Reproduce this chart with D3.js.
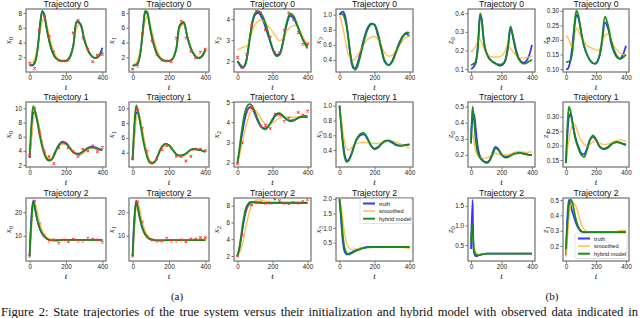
<!DOCTYPE html>
<html><head><meta charset="utf-8">
<script src="https://cdn.jsdelivr.net/npm/d3@7"></script>
<style>body{margin:0;background:#fff}svg{display:block}</style>
</head><body>
<svg id="c" width="640" height="318"></svg>
<script>
// ---------- DATA ----------
const tGrid = [0,10,20,30,40,50,60,70,80,90,100,120,140,160,180,200,220,240,260,280,300,320,340,360,380,400];
const obsT = [0,27,53,80,107,133,160,187,213,240,267,293,320,347,373,400];
const xTicks = [0,200,400];
const seriesNames = ["truth","smoothed","hybrid model"];

// Trajectory 0
const x0_t0_truth  = [1.0,0.9,1.0,1.4,2.6,4.6,7.0,8.2,7.8,6.4,5.1,3.1,2.0,1.6,1.5,1.5,2.0,3.6,6.8,6.4,4.4,3.0,2.2,1.9,2.2,3.3];
const x0_t0_smooth = [1.2,1.2,1.4,2.0,3.0,4.4,5.8,6.9,7.3,6.8,5.8,3.8,2.4,1.7,1.5,1.5,1.9,3.5,6.0,6.5,4.8,3.2,2.3,1.9,2.2,2.8];
const x0_t0_hybrid = [1.0,0.9,0.95,1.3,2.4,4.4,6.9,8.3,7.9,6.5,5.1,3.1,2.0,1.6,1.5,1.5,1.9,3.5,6.9,6.5,4.5,3.0,2.2,1.9,2.1,2.8];
const x0_t0_obs    = [1.2,0.5,5.7,7.6,4.9,2.7,1.6,1.5,1.6,5.3,7.0,4.6,3.1,1.4,2.3,2.4];

const x1_t0_truth  = [0.9,0.9,1.0,1.3,2.3,4.2,6.6,8.1,8.0,6.9,5.5,3.4,2.2,1.7,1.5,1.5,1.8,3.2,6.3,6.6,4.8,3.2,2.3,1.9,2.1,3.0];
const x1_t0_smooth = [1.0,1.1,1.3,1.8,2.8,4.2,5.8,7.0,7.5,7.2,6.2,4.2,2.6,1.8,1.5,1.5,1.8,3.2,5.8,6.5,5.0,3.4,2.4,2.0,2.2,2.9];
const x1_t0_hybrid = [0.9,0.9,0.95,1.2,2.2,4.0,6.5,8.3,8.1,6.9,5.5,3.4,2.2,1.7,1.5,1.5,1.8,3.1,6.4,6.8,4.9,3.2,2.3,1.9,2.1,3.1];
const x1_t0_obs    = [0.4,0.8,5.2,8.1,4.2,2.4,1.6,1.5,1.4,4.6,6.9,4.6,2.8,1.9,2.7,3.1];

const x2_t0_truth  = [2.0,1.85,1.72,1.68,1.75,2.0,2.5,3.1,3.6,4.0,4.2,4.3,4.05,3.6,3.1,2.6,2.3,2.35,2.9,3.7,4.15,4.05,3.7,3.3,2.95,2.7];
const x2_t0_smooth = [2.5,2.58,2.62,2.65,2.68,2.7,2.8,3.0,3.3,3.55,3.75,3.92,3.95,3.8,3.6,3.4,3.15,2.95,3.1,3.4,3.6,3.7,3.65,3.4,3.05,2.8];
const x2_t0_hybrid = [2.0,1.9,1.78,1.72,1.78,2.0,2.45,3.05,3.6,4.05,4.28,4.38,4.2,3.8,3.2,2.6,2.25,2.3,2.9,3.8,4.25,4.15,3.75,3.3,2.9,2.6];
const x2_t0_obs    = [2.18,1.7,2.32,3.71,4.38,4.3,3.48,3.16,2.41,2.4,3.47,4.3,3.95,3.37,2.8,2.82];

const x3_t0_truth  = [1.0,1.03,1.04,1.0,0.88,0.7,0.5,0.35,0.29,0.29,0.33,0.5,0.68,0.82,0.88,0.86,0.72,0.53,0.37,0.33,0.38,0.5,0.62,0.71,0.75,0.71];
const x3_t0_smooth = [0.98,0.92,0.82,0.7,0.58,0.48,0.42,0.4,0.4,0.42,0.45,0.53,0.61,0.67,0.7,0.71,0.67,0.58,0.49,0.45,0.46,0.52,0.59,0.65,0.7,0.72];
const x3_t0_hybrid = [1.0,1.01,1.0,0.95,0.85,0.7,0.52,0.38,0.3,0.27,0.3,0.46,0.65,0.8,0.87,0.87,0.75,0.55,0.38,0.33,0.37,0.48,0.6,0.7,0.76,0.76];

const z0_t0_truth  = [0.10,0.105,0.115,0.13,0.18,0.29,0.39,0.36,0.28,0.22,0.19,0.155,0.14,0.13,0.12,0.12,0.135,0.2,0.32,0.26,0.19,0.15,0.135,0.14,0.17,0.23];
const z0_t0_smooth = [0.19,0.2,0.21,0.22,0.24,0.26,0.26,0.24,0.22,0.2,0.185,0.17,0.165,0.165,0.165,0.17,0.19,0.23,0.21,0.19,0.17,0.16,0.16,0.16,0.165,0.17];
const z0_t0_hybrid = [0.12,0.125,0.13,0.14,0.18,0.28,0.40,0.37,0.28,0.22,0.19,0.155,0.14,0.13,0.125,0.125,0.14,0.21,0.33,0.25,0.18,0.145,0.13,0.13,0.14,0.15];

const z1_t0_truth  = [0.10,0.10,0.11,0.13,0.17,0.22,0.26,0.285,0.28,0.26,0.23,0.18,0.15,0.13,0.12,0.12,0.14,0.19,0.26,0.24,0.19,0.16,0.14,0.135,0.15,0.18];
const z1_t0_smooth = [0.215,0.21,0.2,0.185,0.175,0.2,0.225,0.24,0.235,0.22,0.21,0.195,0.18,0.175,0.17,0.165,0.165,0.19,0.215,0.22,0.2,0.18,0.165,0.155,0.15,0.15];
const z1_t0_hybrid = [0.125,0.125,0.126,0.13,0.15,0.2,0.27,0.30,0.29,0.26,0.23,0.18,0.15,0.13,0.12,0.12,0.14,0.2,0.28,0.25,0.2,0.165,0.145,0.135,0.14,0.15];

// Trajectory 1
const x0_t1_truth  = [3.0,6.5,9.3,9.5,8.6,7.4,6.0,4.8,3.9,3.2,2.8,2.8,3.8,4.8,5.3,5.1,4.5,3.8,3.5,3.6,4.0,4.4,4.6,4.5,4.3,4.1];
const x0_t1_smooth = [3.2,5.5,8.3,9.4,8.9,7.8,6.4,5.1,4.1,3.4,3.0,2.9,3.6,4.5,5.0,5.0,4.5,3.8,3.4,3.4,3.8,4.2,4.4,4.4,4.2,4.1];
const x0_t1_hybrid = [3.0,7.8,10.3,9.6,8.4,7.0,5.6,4.5,3.6,3.0,2.7,2.7,3.7,4.8,5.2,5.0,4.4,3.8,3.6,3.7,4.0,4.4,4.5,4.4,4.2,4.1];
const x0_t1_obs    = [3.4,10.0,6.5,3.9,3.2,2.2,4.4,5.1,4.4,3.9,3.2,4.2,4.0,4.7,3.9,4.5];

const x1_t1_truth  = [3.0,6.8,9.4,9.4,8.5,7.2,5.8,4.6,3.7,3.0,2.7,2.7,3.7,4.7,5.2,5.0,4.4,3.8,3.6,3.7,4.0,4.4,4.5,4.4,4.3,4.1];
const x1_t1_smooth = [3.2,5.8,8.5,9.3,8.8,7.6,6.2,4.9,3.9,3.2,2.8,2.8,3.6,4.5,5.0,5.0,4.5,3.8,3.5,3.5,3.9,4.3,4.4,4.4,4.3,4.2];
const x1_t1_hybrid = [3.0,8.0,10.4,9.5,8.2,6.8,5.4,4.3,3.4,2.8,2.6,2.7,3.7,4.8,5.2,5.0,4.4,3.8,3.6,3.7,4.0,4.4,4.5,4.4,4.3,4.1];
const x1_t1_obs    = [3.3,9.8,7.3,4.2,2.6,3.2,4.4,5.0,4.6,3.5,3.5,2.9,3.5,4.5,4.5,4.3];

const x2_t1_truth  = [2.0,2.5,3.1,3.6,4.1,4.45,4.65,4.75,4.72,4.6,4.4,4.0,3.75,3.7,3.85,4.1,4.35,4.4,4.3,4.15,4.08,4.1,4.18,4.25,4.27,4.25];
const x2_t1_smooth = [2.0,2.3,2.7,3.1,3.5,3.85,4.15,4.4,4.55,4.6,4.6,4.4,4.1,3.9,3.85,3.95,4.1,4.2,4.25,4.25,4.25,4.25,4.28,4.3,4.33,4.35];
const x2_t1_hybrid = [2.0,2.6,3.3,3.9,4.4,4.7,4.85,4.9,4.85,4.7,4.5,4.05,3.72,3.65,3.85,4.15,4.4,4.45,4.32,4.15,4.05,4.08,4.18,4.27,4.3,4.3];
const x2_t1_obs    = [1.95,2.98,4.54,4.72,4.3,3.82,3.85,3.69,4.4,4.35,4.05,4.2,4.1,4.48,4.35,4.55];

const x3_t1_truth  = [1.0,0.75,0.5,0.33,0.26,0.26,0.3,0.36,0.43,0.5,0.55,0.6,0.61,0.55,0.46,0.42,0.44,0.49,0.52,0.52,0.5,0.47,0.46,0.46,0.47,0.47];
const x3_t1_smooth = [1.0,0.82,0.64,0.5,0.42,0.4,0.41,0.43,0.46,0.48,0.49,0.5,0.5,0.5,0.49,0.49,0.49,0.5,0.51,0.52,0.52,0.51,0.49,0.47,0.45,0.42];
const x3_t1_hybrid = [1.0,0.72,0.46,0.3,0.24,0.25,0.29,0.35,0.43,0.5,0.56,0.62,0.63,0.56,0.46,0.41,0.43,0.48,0.52,0.53,0.51,0.48,0.46,0.46,0.47,0.48];

const z0_t1_truth  = [0.28,0.42,0.45,0.37,0.28,0.22,0.19,0.175,0.165,0.158,0.155,0.165,0.21,0.25,0.235,0.205,0.19,0.19,0.2,0.21,0.215,0.215,0.21,0.205,0.2,0.2];
const z0_t1_smooth = [0.34,0.33,0.28,0.23,0.2,0.19,0.185,0.182,0.18,0.18,0.182,0.19,0.205,0.21,0.205,0.2,0.2,0.2,0.205,0.212,0.218,0.22,0.218,0.215,0.218,0.22];
const z0_t1_hybrid = [0.27,0.5,0.42,0.3,0.23,0.2,0.18,0.17,0.16,0.155,0.15,0.16,0.2,0.24,0.23,0.2,0.185,0.185,0.195,0.205,0.21,0.212,0.21,0.205,0.2,0.2];

const z1_t1_truth  = [0.14,0.24,0.3,0.31,0.29,0.26,0.235,0.215,0.2,0.185,0.175,0.17,0.19,0.22,0.23,0.22,0.2,0.19,0.19,0.195,0.205,0.21,0.212,0.21,0.206,0.203];
const z1_t1_smooth = [0.17,0.19,0.22,0.25,0.27,0.275,0.272,0.26,0.245,0.23,0.22,0.205,0.2,0.205,0.213,0.215,0.21,0.205,0.204,0.206,0.21,0.215,0.218,0.22,0.218,0.214];
const z1_t1_hybrid = [0.14,0.27,0.335,0.32,0.29,0.26,0.23,0.21,0.195,0.18,0.17,0.16,0.185,0.22,0.235,0.222,0.2,0.19,0.188,0.193,0.203,0.21,0.212,0.21,0.206,0.203];

// Trajectory 2
const x0_t2_truth  = [1.5,18,25,21.5,17.5,14.5,12.3,10.8,9.7,9.0,8.5,8.1,8.0,8.1,8.2,8.2,8.2,8.2,8.2,8.2,8.2,8.2,8.2,8.2,8.2,8.2];
const x0_t2_smooth = [1.5,13,22,24,21,17.5,14.5,12.2,10.6,9.6,9.0,8.4,8.2,8.2,8.3,8.3,8.3,8.3,8.3,8.3,8.3,8.3,8.3,8.3,8.2,8.1];
const x0_t2_hybrid = [1.0,16,24.5,21.5,17.5,14.5,12.3,10.8,9.7,9.0,8.5,8.1,8.0,8.1,8.2,8.2,8.2,8.2,8.2,8.2,8.2,8.2,8.2,8.2,8.2,8.2];
const x0_t2_obs    = [1.3,24.8,14.9,10.0,7.7,8.2,6.8,8.2,7.5,8.5,7.7,7.7,8.9,8.6,8.2,7.2];

const x1_t2_truth  = [1.5,18,25,21.5,17.5,14.3,12.0,10.5,9.5,8.8,8.4,8.1,8.0,8.0,8.1,8.1,8.1,8.1,8.1,8.1,8.1,8.1,8.1,8.1,8.1,8.1];
const x1_t2_smooth = [1.5,13,22,23.8,21,17.2,14.2,12.0,10.4,9.4,8.8,8.3,8.1,8.1,8.2,8.2,8.2,8.2,8.2,8.2,8.3,8.3,8.4,8.4,8.4,8.4];
const x1_t2_hybrid = [1.0,16,24.5,21.5,17.4,14.2,12.0,10.5,9.5,8.8,8.4,8.1,8.0,8.0,8.1,8.1,8.1,8.1,8.1,8.1,8.1,8.1,8.1,8.1,8.1,8.1];
const x1_t2_obs    = [1.3,24.5,15.8,9.6,8.2,7.7,7.7,8.9,7.7,7.7,8.2,7.5,8.6,8.6,9.2,9.2];

const x2_t2_truth  = [2.0,2.8,4.0,5.4,6.6,7.5,8.0,8.3,8.4,8.4,8.4,8.4,8.35,8.35,8.35,8.35,8.35,8.35,8.35,8.35,8.35,8.35,8.35,8.35,8.35,8.35];
const x2_t2_smooth = [2.0,2.3,2.8,3.6,4.6,5.6,6.6,7.4,8.0,8.4,8.6,8.7,8.65,8.55,8.5,8.45,8.45,8.45,8.45,8.45,8.45,8.45,8.45,8.45,8.45,8.45];
const x2_t2_hybrid = [2.0,2.9,4.3,5.8,7.0,7.8,8.2,8.4,8.45,8.45,8.4,8.35,8.35,8.35,8.35,8.35,8.35,8.35,8.35,8.35,8.35,8.35,8.35,8.35,8.35,8.35];
const x2_t2_obs    = [2.0,4.5,7.7,8.1,8.4,8.4,8.3,8.3,8.8,8.6,8.3,8.2,8.4,8.3,8.5,8.75];

const x3_t2_truth  = [2.0,1.2,0.5,0.18,0.1,0.11,0.14,0.17,0.2,0.23,0.26,0.3,0.33,0.35,0.35,0.35,0.35,0.35,0.35,0.35,0.35,0.35,0.35,0.35,0.35,0.35];
const x3_t2_smooth = [2.0,1.7,1.2,0.8,0.5,0.35,0.29,0.27,0.27,0.28,0.29,0.31,0.32,0.33,0.33,0.34,0.34,0.35,0.35,0.36,0.36,0.35,0.34,0.33,0.32,0.3];
const x3_t2_hybrid = [2.0,1.4,0.7,0.3,0.14,0.1,0.11,0.14,0.17,0.2,0.23,0.28,0.32,0.34,0.35,0.35,0.35,0.35,0.35,0.35,0.35,0.35,0.35,0.35,0.35,0.35];

const z0_t2_truth  = [0.4,1.65,0.3,0.22,0.22,0.24,0.25,0.26,0.27,0.27,0.28,0.28,0.28,0.28,0.28,0.28,0.28,0.28,0.28,0.28,0.28,0.28,0.28,0.28,0.28,0.28];
const z0_t2_smooth = [0.85,0.7,0.45,0.33,0.28,0.26,0.26,0.27,0.27,0.28,0.28,0.28,0.28,0.28,0.28,0.28,0.28,0.28,0.28,0.285,0.285,0.29,0.29,0.29,0.29,0.29];
const z0_t2_hybrid = [0.6,1.05,0.35,0.26,0.24,0.24,0.25,0.26,0.27,0.27,0.28,0.28,0.28,0.28,0.28,0.28,0.28,0.28,0.28,0.28,0.28,0.28,0.28,0.28,0.28,0.28];

const z1_t2_truth  = [0.14,0.4,0.5,0.47,0.43,0.4,0.37,0.34,0.32,0.305,0.295,0.29,0.29,0.29,0.29,0.29,0.29,0.29,0.29,0.29,0.29,0.29,0.29,0.29,0.29,0.29];
const z1_t2_smooth = [0.13,0.25,0.38,0.46,0.49,0.48,0.47,0.45,0.42,0.38,0.35,0.31,0.295,0.29,0.29,0.29,0.29,0.29,0.29,0.29,0.29,0.29,0.295,0.3,0.303,0.305];
const z1_t2_hybrid = [0.18,0.35,0.47,0.505,0.49,0.45,0.4,0.36,0.33,0.31,0.3,0.29,0.29,0.29,0.29,0.29,0.29,0.29,0.29,0.29,0.29,0.29,0.29,0.29,0.29,0.29];

// y-axis tick labels per panel (row-major)
const yTicks = [
  [[2,4,6,8],[2,4,6,8],[2,3,4],[0.4,0.6,0.8,1.0],[0.1,0.2,0.3,0.4],[0.10,0.15,0.20,0.25,0.30]],
  [[2,4,6,8,10],[4,6,8,10],[2,3,4,5],[0.4,0.6,0.8,1.0],[0.2,0.3,0.4,0.5],[0.15,0.20,0.25,0.30]],
  [[10,20],[10,20],[2,4,6,8],[0.5,1.0,1.5,2.0],[0.5,1.0,1.5],[0.2,0.3,0.4,0.5]]
];
const yDomains = [
  [[0,8.55],[0,8.55],[1.48,4.48],[0.24,1.075],[0.084,0.423],[0.09,0.306]],
  [[1.72,10.9],[2.07,10.85],[1.79,5.0],[0.17,1.05],[0.125,0.529],[0.126,0.351]],
  [[-0.8,26.1],[-0.8,26.1],[1.4,8.92],[-0.13,2.03],[0.093,1.7],[0.102,0.513]]
];
const tickFormats = [
  ["d","d","d",".1f",".1f",".2f"],
  ["d","d","d",".1f",".1f",".2f"],
  ["d","d","d",".1f",".1f",".1f"]
];
const varNames = [["x","0"],["x","1"],["x","2"],["x","3"],["z","0"],["z","1"]];

const panels = [
  [[x0_t0_truth,x0_t0_smooth,x0_t0_hybrid,x0_t0_obs],[x1_t0_truth,x1_t0_smooth,x1_t0_hybrid,x1_t0_obs],[x2_t0_truth,x2_t0_smooth,x2_t0_hybrid,x2_t0_obs],[x3_t0_truth,x3_t0_smooth,x3_t0_hybrid,null],[z0_t0_truth,z0_t0_smooth,z0_t0_hybrid,null],[z1_t0_truth,z1_t0_smooth,z1_t0_hybrid,null]],
  [[x0_t1_truth,x0_t1_smooth,x0_t1_hybrid,x0_t1_obs],[x1_t1_truth,x1_t1_smooth,x1_t1_hybrid,x1_t1_obs],[x2_t1_truth,x2_t1_smooth,x2_t1_hybrid,x2_t1_obs],[x3_t1_truth,x3_t1_smooth,x3_t1_hybrid,null],[z0_t1_truth,z0_t1_smooth,z0_t1_hybrid,null],[z1_t1_truth,z1_t1_smooth,z1_t1_hybrid,null]],
  [[x0_t2_truth,x0_t2_smooth,x0_t2_hybrid,x0_t2_obs],[x1_t2_truth,x1_t2_smooth,x1_t2_hybrid,x1_t2_obs],[x2_t2_truth,x2_t2_smooth,x2_t2_hybrid,x2_t2_obs],[x3_t2_truth,x3_t2_smooth,x3_t2_hybrid,null],[z0_t2_truth,z0_t2_smooth,z0_t2_hybrid,null],[z1_t2_truth,z1_t2_smooth,z1_t2_hybrid,null]]
];

// ---------- LAYOUT / STYLE ----------
const colX = [[26,106],[129,209],[234,311],[336,413],[468,535],[563,629]];
const rowY = [[9,72],[102,167],[198,261]];
const colors = ["#2020ff","#ffb733","#138a13"];
const widths = [1.8,1.4,1.8];
const opac = [0.9,0.85,0.95];
const sans = "'Liberation Sans', Arial, sans-serif";
const serif = "'Liberation Serif', 'Times New Roman', serif";

const svg = d3.select("#c");
svg.append("rect").attr("width",640).attr("height",318).attr("fill","#fff");

panels.forEach((row, r) => {
  row.forEach((p, c) => {
    const [xa, xb] = colX[c], [ya, yb] = rowY[r];
    const x = d3.scaleLinear().domain([-20,420]).range([xa,xb]);
    const y = d3.scaleLinear().domain(yDomains[r][c]).range([yb,ya]);
    const g = svg.append("g");
    const cid = `clip${r}${c}`;
    g.append("clipPath").attr("id",cid).append("rect")
      .attr("x",xa).attr("y",ya).attr("width",xb-xa).attr("height",yb-ya);

    const line = d3.line().x((d,i)=>x(tGrid[i])).y(d=>y(d)).curve(d3.curveCatmullRom.alpha(0.5));
    const lg = g.append("g").attr("clip-path",`url(#${cid})`);
    [0,1,2].forEach(s => {
      lg.append("path").datum(p[s]).attr("d",line)
        .attr("fill","none").attr("stroke",colors[s]).attr("stroke-width",widths[s])
        .attr("stroke-opacity",opac[s]).attr("stroke-linejoin","round");
    });
    if (p[3]) {
      const m = 1.2;
      lg.selectAll("path.obs").data(p[3]).join("path").attr("class","obs")
        .attr("d",(d,i)=>{const cx=x(obsT[i]), cy=y(d); return `M${cx-m},${cy-m}L${cx+m},${cy+m}M${cx-m},${cy+m}L${cx+m},${cy-m}`;})
        .attr("stroke","#ff3030").attr("stroke-width",1.1).attr("stroke-opacity",0.9).attr("fill","none");
    }

    // axes
    const xa_ = g.append("g").attr("transform",`translate(0,${yb})`)
      .call(d3.axisBottom(x).tickValues(xTicks).tickSize(2.5).tickPadding(1.5));
    const ya_ = g.append("g").attr("transform",`translate(${xa},0)`)
      .call(d3.axisLeft(y).tickValues(yTicks[r][c]).tickFormat(d3.format(tickFormats[r][c])).tickSize(2.5).tickPadding(1.5));
    [xa_,ya_].forEach(a=>{
      a.select(".domain").remove();
      a.selectAll("line").attr("stroke","#333").attr("stroke-width",0.7);
      a.selectAll("text").attr("font-family",sans).attr("font-size",6.3).attr("fill","#222");
    });

    // frame
    g.append("rect").attr("x",xa).attr("y",ya).attr("width",xb-xa).attr("height",yb-ya)
      .attr("fill","none").attr("stroke","#7a7a7a").attr("stroke-width",1.3);

    // title
    g.append("text").attr("x",(xa+xb)/2).attr("y",ya-2.5).attr("text-anchor","middle")
      .attr("font-family",sans).attr("font-size",8.6).attr("fill","#111").text(`Trajectory ${r}`);
    // x label
    g.append("text").attr("x",(xa+xb)/2).attr("y",yb+17.5).attr("text-anchor","middle")
      .attr("font-family",serif).attr("font-style","italic").attr("font-size",9).attr("fill","#111").text("t");
    // y label
    const yl = g.append("text").attr("transform",`translate(${xa-15},${(ya+yb)/2}) rotate(-90)`)
      .attr("text-anchor","middle").attr("font-family",serif).attr("font-size",9).attr("fill","#111");
    yl.append("tspan").attr("font-style","italic").text(varNames[c][0]);
    yl.append("tspan").attr("font-size",6.5).attr("dy",2).text(varNames[c][1]);
  });
});

// legends
function legend(xl, yt, w) {
  const g = svg.append("g");
  g.append("rect").attr("x",xl).attr("y",yt).attr("width",w).attr("height",25).attr("rx",1.5)
    .attr("fill","#fff").attr("fill-opacity",0.85).attr("stroke","#ccc").attr("stroke-width",0.6);
  seriesNames.forEach((n,i)=>{
    const yy = yt + 5 + i*7.6;
    g.append("line").attr("x1",xl+3).attr("x2",xl+15).attr("y1",yy).attr("y2",yy)
      .attr("stroke",colors[i]).attr("stroke-width",widths[i]+0.2).attr("stroke-opacity",opac[i]);
    g.append("text").attr("x",xl+19).attr("y",yy+2).attr("font-family",sans).attr("font-size",5.6)
      .attr("fill","#111").text(n);
  });
}
legend(360, 198.5, 52);
legend(575, 233.5, 52);

// panel labels and caption
svg.append("text").attr("x",177).attr("y",299.5).attr("text-anchor","middle")
  .attr("font-family",serif).attr("font-size",11).attr("fill","#111").text("(a)");
svg.append("text").attr("x",552).attr("y",299.5).attr("text-anchor","middle")
  .attr("font-family",serif).attr("font-size",11).attr("fill","#111").text("(b)");
const capStr = "Figure 2: State trajectories of the true system versus their initialization and hybrid model with observed data indicated in";
const cap = svg.append("text").attr("x",1).attr("y",315.5).attr("font-family",serif).attr("font-size",12.6).attr("fill","#111")
  .text(capStr);
const natural = cap.node().getComputedTextLength();
const nSpaces = capStr.split(" ").length - 1;
cap.attr("word-spacing", Math.max(0, (637 - natural) / nSpaces));
</script>
</body></html>
